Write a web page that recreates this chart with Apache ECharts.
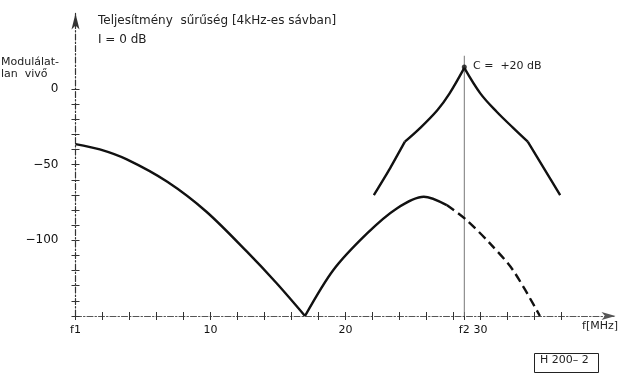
<!DOCTYPE html>
<html>
<head>
<meta charset="UTF-8">
<title>Teljesítmény sűrűség</title>
<script type="text/javascript" src="https://cdn.jsdelivr.net/npm/echarts@6.0.0/dist/echarts.min.js"></script>
</head>
<body style="margin:0;background:#fff">
    <div id="main" style="width: 621px;height:374px;"></div>
    <script type="text/javascript">
    // frekvencia [MHz], teljesítmény [dB] párok
    var f2 = 28.8;
    var fallPts = [[0, -36.4], [1.8, -39.9], [3.8, -46.5], [6.8, -61.3], [9.7, -81.1], [12.7, -107.5], [14.9, -128.4], [17.0, -150]];
    var risePts = [[17.0, -150], [19.1, -119.6], [21.6, -95.4], [23.8, -78.9], [25.8, -71.2], [27.5, -76.7]];
    var tailPts = [[27.5, -76.7], [28.9, -86.1], [30.7, -102], [32.4, -119.6], [34.4, -150]];
    var specLeftLow = [[22.1, -70.1], [23.3, -52.4], [24.4, -34.8]];
    var specLeftUp = [[24.4, -34.8], [25.5, -26], [26.8, -14], [27.7, -3], [28.8, 14]];
    var specRightUp = [[28.8, 14], [30.0, -3], [31.2, -15], [32.4, -25.5], [33.5, -34.8]];
    var specRightLow = [[33.5, -34.8], [34.7, -52.4], [35.9, -70.1]];
    var carrierPt = [[28.8, 14.5]];
    var f2Line = [[f2, 22], [f2, -150]];

    var xTicks = [0, 2, 4, 6, 8, 10, 12, 14, 16, 18, 20, 22, 24, 26, 28, f2, 30, 32, 34, 36];
    var xLabels = [0, 10, 20, f2, 30];
    var yTicks = [-150, -140, -130, -120, -110, -100, -90, -80, -70, -60, -50, -40, -30, -20, -10, 0];
    var yLabels = [0, -50, -100];

    var font = 'DejaVu Sans';
    var myChart = echarts.init(document.getElementById('main'));

    function curve(pts, dashed, smooth) {
        return {
            type: 'line', data: pts, symbol: 'none', smooth: smooth,
            lineStyle: { color: '#111', width: 2.4, type: dashed ? [9, 5] : 'solid' },
            z: 5
        };
    }

    var option = {
        animation: false,
        grid: { left: 75.5, right: 5.5, top: 13.4, bottom: 58 },
        xAxis: [{
            type: 'value', min: 0, max: 40,
            splitLine: { show: false },
            axisLine: { onZero: false, lineStyle: { color: '#555', width: 1, type: [6, 2, 1.5, 2] }, symbol: ['none', 'arrow'], symbolSize: [6, 14] },
            axisTick: { customValues: xTicks, length: 4, lineStyle: { color: '#333' } },
            axisLabel: {
                customValues: xLabels, margin: 9, color: '#111', fontFamily: font, fontSize: 11,
                formatter: function (v) { return v === 0 ? 'f1' : (v === f2 ? 'f2' : String(v)); }
            }
        }, {
            type: 'value', min: 0, max: 40, position: 'bottom',
            splitLine: { show: false }, axisLine: { show: false, onZero: false }, axisLabel: { show: false },
            axisTick: { customValues: xTicks, inside: true, length: 4, lineStyle: { color: '#333' } }
        }],
        yAxis: [{
            type: 'value', min: -150, max: 50,
            splitLine: { show: false },
            axisLine: { onZero: false, lineStyle: { color: '#333', width: 1.2, type: [6, 2, 1.5, 2] }, symbol: ['none', 'arrow'], symbolSize: [6, 16] },
            axisTick: { customValues: yTicks, length: 4, lineStyle: { color: '#333' } },
            axisLabel: {
                customValues: yLabels, margin: 17, color: '#111', fontFamily: font, fontSize: 12,
                formatter: function (v) { return v < 0 ? '\u2212' + (-v) : String(v); }
            }
        }, {
            type: 'value', min: -150, max: 50, position: 'left',
            splitLine: { show: false }, axisLine: { show: false, onZero: false }, axisLabel: { show: false },
            axisTick: { customValues: yTicks, inside: true, length: 4, lineStyle: { color: '#333' } }
        }],
        series: [
            curve(fallPts, false, 0.3),
            curve(risePts, false, 0.3),
            curve(tailPts, true, 0.3),
            curve(specLeftLow, false, 0.2),
            curve(specLeftUp, false, 0.35),
            curve(specRightUp, false, 0.35),
            curve(specRightLow, false, 0.2),
            {
                type: 'line', data: f2Line, symbol: 'none',
                lineStyle: { color: '#777', width: 1 }, z: 3
            },
            {
                type: 'scatter', data: carrierPt, symbolSize: 5,
                itemStyle: { color: '#111' }, z: 6
            }
        ],
        graphic: [
            { type: 'text', left: 98, top: 15, style: { text: 'Teljesítmény  sűrűség [4kHz-es sávban]', font: '12px ' + font, fill: '#222' } },
            { type: 'text', left: 98, top: 34, style: { text: 'I = 0 dB', font: '12px ' + font, fill: '#222' } },
            { type: 'text', left: 1, top: 56, style: { text: 'Modulálat-\nlan  vivő', font: '11px ' + font, fill: '#222', lineHeight: 12 } },
            { type: 'text', left: 473, top: 61, style: { text: 'C =  +20 dB', font: '11px ' + font, fill: '#222' } },
            { type: 'text', right: 3, top: 321, style: { text: 'f[MHz]', font: '11px ' + font, fill: '#222' } },
            { type: 'rect', left: 532, top: 351, shape: { width: 64, height: 19 }, style: { fill: 'none', stroke: '#222', lineWidth: 1 } },
            { type: 'text', left: 540, top: 355, style: { text: 'H 200– 2', font: '11px ' + font, fill: '#222' } }
        ]
    };

    myChart.setOption(option);
    </script>
</body>
</html>
